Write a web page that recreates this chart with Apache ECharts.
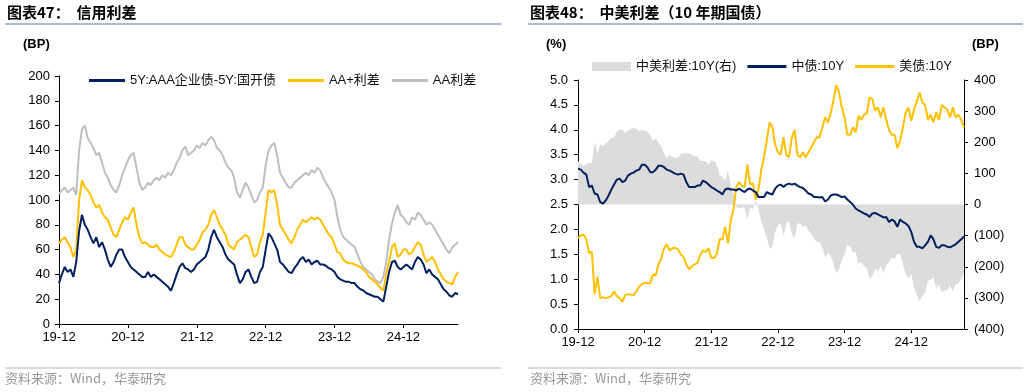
<!DOCTYPE html>
<html><head><meta charset="utf-8">
<script src="https://cdn.jsdelivr.net/npm/echarts@6/dist/echarts.min.js"></script>
<style>html,body{margin:0;padding:0;background:#fff}#c{width:1029px;height:392px}</style>
</head><body><div id="c"></div><script>
// semi-monthly dates from 2019-12-01 (index i -> month i/2)
const dates = [];
for (let i = 0; i < 140; i++) {
  const m = i >> 1;
  const y = 2019 + Math.floor((11 + m) / 12);
  const mo = (11 + m) % 12 + 1;
  dates.push(y + '-' + String(mo).padStart(2, '0') + (i % 2 ? '-16' : '-01'));
}
// ---- Chart 47: credit spreads (BP)
const aaaSpread = [
  33,40,46,42,44,38,50,75,88,80,
  76,70,65,70,62,66,60,52,46,50,
  56,60,60,54,50,46,44,42,40,38,
  38,42,38,40,38,36,34,32,30,27,
  33,40,46,49,45,44,42,44,48,50,
  52,54,60,70,76,70,66,62,56,52,
  50,48,40,33,36,42,44,38,33,34,
  42,46,60,73,70,65,60,50,48,45,
  42,41,45,48,52,54,50,52,48,50,
  51,48,48,47,45,44,42,38,36,35,
  34,34,33,33,30,28,27,25,24,23,
  22,22,20,18,30,42,50,51,46,44,
  46,48,46,44,50,54,52,48,41,44,
  40,38,36,32,28,26,23,22,25,24];
const aaPlusSpread = [
  65,68,70,66,62,54,60,100,116,110,
  108,104,98,94,96,90,86,84,78,72,
  70,76,82,86,84,90,94,80,70,65,
  66,64,62,62,64,60,58,56,55,54,
  58,64,70,70,64,62,60,60,64,68,
  74,76,80,88,92,86,80,76,72,64,
  62,60,66,68,70,72,70,62,54,56,
  66,72,90,108,106,108,96,80,76,72,
  68,65,70,76,80,84,82,84,86,84,
  86,84,80,76,72,70,64,58,57,52,
  50,49,49,48,47,46,44,42,38,36,
  34,32,29,27,40,50,62,65,54,56,
  60,60,56,58,62,66,64,56,50,52,
  54,50,44,40,36,34,33,32,38,42];
const aaSpread = [
  105,108,110,106,108,110,104,140,157,160,
  150,146,142,136,138,130,122,118,112,108,
  106,112,120,126,132,136,138,126,114,108,
  110,114,112,116,118,116,120,118,122,120,
  124,130,134,140,143,136,138,140,144,142,
  146,144,148,151,148,142,140,136,130,126,
  124,118,106,102,108,114,110,104,98,100,
  106,110,128,140,144,146,136,122,118,114,
  110,110,114,116,118,120,122,120,124,122,
  126,124,118,114,110,106,100,86,76,70,
  68,66,64,62,56,50,46,44,42,40,
  36,34,33,38,50,68,81,90,96,88,
  86,82,80,86,84,90,88,84,80,82,
  80,76,72,68,64,60,57,62,64,66];
// ---- Chart 48: CN vs US 10Y
const cn10y = [
  3.22,3.20,3.14,3.10,2.85,2.88,2.72,2.70,2.55,2.52,
  2.58,2.68,2.80,2.90,3.00,3.02,2.95,2.98,3.08,3.12,
  3.14,3.18,3.20,3.30,3.30,3.25,3.15,3.15,3.20,3.28,
  3.28,3.25,3.20,3.18,3.15,3.12,3.10,3.12,3.10,2.95,
  2.85,2.85,2.85,2.88,2.88,2.98,2.95,2.90,2.85,2.82,
  2.78,2.75,2.70,2.80,2.82,2.80,2.80,2.78,2.82,2.78,
  2.75,2.80,2.82,2.78,2.75,2.65,2.65,2.65,2.75,2.72,
  2.70,2.82,2.88,2.90,2.85,2.90,2.92,2.90,2.92,2.88,
  2.85,2.83,2.78,2.72,2.70,2.65,2.65,2.64,2.65,2.56,
  2.60,2.68,2.70,2.70,2.68,2.65,2.66,2.60,2.55,2.50,
  2.42,2.38,2.35,2.32,2.30,2.25,2.32,2.33,2.30,2.27,
  2.24,2.25,2.15,2.20,2.16,2.05,2.20,2.15,2.12,2.07,
  1.95,1.75,1.65,1.65,1.62,1.68,1.75,1.88,1.80,1.65,
  1.63,1.68,1.68,1.65,1.64,1.67,1.70,1.75,1.80,1.86];
const us10y = [
  1.82,1.88,1.90,1.80,1.52,1.55,0.70,1.05,0.62,0.64,
  0.62,0.64,0.66,0.75,0.66,0.62,0.55,0.68,0.70,0.69,
  0.68,0.75,0.85,0.90,0.93,0.92,0.92,1.10,1.08,1.30,
  1.42,1.62,1.70,1.58,1.62,1.63,1.60,1.50,1.45,1.30,
  1.20,1.26,1.30,1.33,1.48,1.58,1.55,1.62,1.43,1.42,
  1.51,1.80,1.80,2.05,1.72,2.18,2.40,2.85,2.95,2.88,
  2.85,3.30,2.90,2.93,2.60,2.80,3.20,3.45,3.80,4.15,
  4.05,3.70,3.55,3.50,3.85,3.50,3.45,3.85,4.00,3.50,
  3.45,3.55,3.45,3.55,3.65,3.75,3.85,3.85,4.05,4.25,
  4.15,4.33,4.60,4.90,4.75,4.45,4.25,3.90,3.90,4.05,
  3.95,4.28,4.20,4.30,4.33,4.65,4.62,4.38,4.45,4.25,
  4.45,4.20,4.00,3.90,3.90,3.63,3.78,4.05,4.35,4.45,
  4.18,4.40,4.57,4.75,4.55,4.50,4.20,4.30,4.15,4.35,
  4.20,4.50,4.45,4.40,4.25,4.45,4.25,4.30,4.20,4.05];
const cnUsSpreadBp = [
  140,132,124,130,133,133,202,165,193,188,
  196,204,214,215,234,240,240,230,238,243,
  246,243,235,240,237,233,223,205,212,198,
  186,163,150,160,153,149,150,162,165,165,
  165,159,155,155,140,140,140,128,142,140,
  127,95,90,75,110,62,40,-7,-13,-10,
  -10,-50,-8,-15,15,-15,-55,-80,-105,-143,
  -135,-88,-67,-60,-100,-60,-53,-95,-108,-62,
  -60,-72,-67,-83,-95,-110,-120,-121,-140,-169,
  -155,-165,-190,-220,-207,-180,-159,-130,-135,-155,
  -153,-190,-185,-198,-203,-240,-230,-205,-215,-198,
  -221,-195,-185,-170,-174,-158,-158,-190,-223,-238,
  -223,-265,-292,-310,-293,-282,-245,-242,-235,-270,
  -257,-282,-277,-275,-261,-278,-255,-255,-240,-219];

const leftNames = ['5Y:AAA企业债-5Y:国开债', 'AA+利差', 'AA利差'];
const rightNames = ['中美利差:10Y(右)', '中债:10Y', '美债:10Y'];
const NAVY = '#002060', GOLD = '#FFC000', GREY = '#BFBFBF', AREA = '#DCDCDC';
const FONT = "'Liberation Sans', 'Noto Sans CJK SC', sans-serif";

const tickEvery = (idx) => idx % 24 === 0;
const fmtDate = (v) => v.slice(2, 4) + '-' + v.slice(5, 7);

function xAxisFor(g) {
  return {
    type: 'category', gridIndex: g, data: dates, boundaryGap: false,
    axisLine: { lineStyle: { color: '#000', width: 1 } },
    axisTick: { interval: tickEvery, length: 4, lineStyle: { color: '#000' } },
    axisLabel: { interval: tickEvery, formatter: fmtDate, color: '#000', fontSize: 13, fontFamily: FONT, margin: 7 },
    splitLine: { show: false }
  };
}
function yAxisFor(g, opts) {
  return Object.assign({
    type: 'value', gridIndex: g,
    axisLine: { show: true, lineStyle: { color: '#000', width: 1 } },
    axisTick: { show: true, length: 4, lineStyle: { color: '#000' } },
    axisLabel: { color: '#000', fontSize: 13, fontFamily: FONT, margin: 9 },
    splitLine: { show: false }
  }, opts);
}
function lineSeries(name, data, color, xi, yi, z) {
  return { name, type: 'line', data, xAxisIndex: xi, yAxisIndex: yi, symbol: 'none', showSymbol: false,
    lineStyle: { color, width: 2 }, itemStyle: { color }, z: z };
}

const chart = echarts.init(document.getElementById('c'), null, { renderer: 'canvas' });
chart.setOption({
  animation: false,
  textStyle: { fontFamily: FONT },
  grid: [
    { left: 59, top: 76, width: 399, height: 248 },
    { left: 578, top: 80, width: 386, height: 249 }
  ],
  xAxis: [xAxisFor(0), xAxisFor(1)],
  yAxis: [
    yAxisFor(0, { min: 0, max: 200, interval: 20 }),
    yAxisFor(1, { min: 0, max: 5, interval: 0.5, axisLabel: { color: '#000', fontSize: 13, fontFamily: FONT, margin: 10, formatter: v => v.toFixed(1) } }),
    yAxisFor(1, { position: 'right', min: -400, max: 400, interval: 100,
      axisLabel: { color: '#000', fontSize: 13, fontFamily: FONT, margin: 10, formatter: v => v < 0 ? '(' + (-v) + ')' : String(v) } })
  ],
  legend: [
    { data: leftNames, left: 84, top: 69, icon: 'rect', itemWidth: 36, itemHeight: 3, itemGap: 12,
      textStyle: { fontSize: 13, color: '#111', fontFamily: FONT } },
    { data: [
        { name: rightNames[0], icon: 'rect' },
        { name: rightNames[1], icon: 'path://M0,0H40V3H0Z' },
        { name: rightNames[2], icon: 'path://M0,0H40V3H0Z' }
      ], left: 587, top: 55, itemWidth: 39, itemHeight: 9, itemGap: 11,
      textStyle: { fontSize: 13, color: '#111', fontFamily: FONT } }
  ],
  series: [
    lineSeries(leftNames[2], aaSpread, GREY, 0, 0, 2),
    lineSeries(leftNames[1], aaPlusSpread, GOLD, 0, 0, 3),
    lineSeries(leftNames[0], aaaSpread, NAVY, 0, 0, 4),
    { name: rightNames[0], type: 'line', data: cnUsSpreadBp, xAxisIndex: 1, yAxisIndex: 2,
      symbol: 'none', showSymbol: false, lineStyle: { width: 0, color: AREA }, itemStyle: { color: AREA },
      areaStyle: { color: AREA, opacity: 1 }, z: 1 },
    lineSeries(rightNames[1], cn10y, NAVY, 1, 1, 4),
    lineSeries(rightNames[2], us10y, GOLD, 1, 1, 3)
  ],
  graphic: [
    { type: 'text', left: 7, top: 5, style: { text: '图表47：  信用利差', font: "bold 15px 'Noto Sans CJK SC', sans-serif", fill: '#000' } },
    { type: 'text', left: 530, top: 5, style: { text: '图表48：  中美利差（10 年期国债）', font: "bold 15px 'Noto Sans CJK SC', sans-serif", fill: '#000' } },
    { type: 'line', shape: { x1: 5, y1: 24, x2: 501, y2: 24 }, style: { stroke: '#A9BCD0', lineWidth: 2 } },
    { type: 'line', shape: { x1: 528, y1: 24, x2: 1023, y2: 24 }, style: { stroke: '#A9BCD0', lineWidth: 2 } },
    { type: 'text', left: 23, top: 38, style: { text: '(BP)', font: "bold 13px 'Liberation Sans', sans-serif", fill: '#000' } },
    { type: 'text', left: 546, top: 38, style: { text: '(%)', font: "bold 13px 'Liberation Sans', sans-serif", fill: '#000' } },
    { type: 'text', left: 972, top: 38, style: { text: '(BP)', font: "bold 13px 'Liberation Sans', sans-serif", fill: '#000' } },
    { type: 'line', shape: { x1: 5, y1: 368, x2: 501, y2: 368 }, style: { stroke: '#A9BCD0', lineWidth: 1 } },
    { type: 'line', shape: { x1: 528, y1: 368, x2: 1023, y2: 368 }, style: { stroke: '#A9BCD0', lineWidth: 1 } },
    { type: 'text', left: 5, top: 372, style: { text: '资料来源：Wind，华泰研究', font: "13px 'Noto Sans CJK SC', sans-serif", fill: '#999999' } },
    { type: 'text', left: 530, top: 372, style: { text: '资料来源：Wind，华泰研究', font: "13px 'Noto Sans CJK SC', sans-serif", fill: '#999999' } }
  ]
});
</script></body></html>
